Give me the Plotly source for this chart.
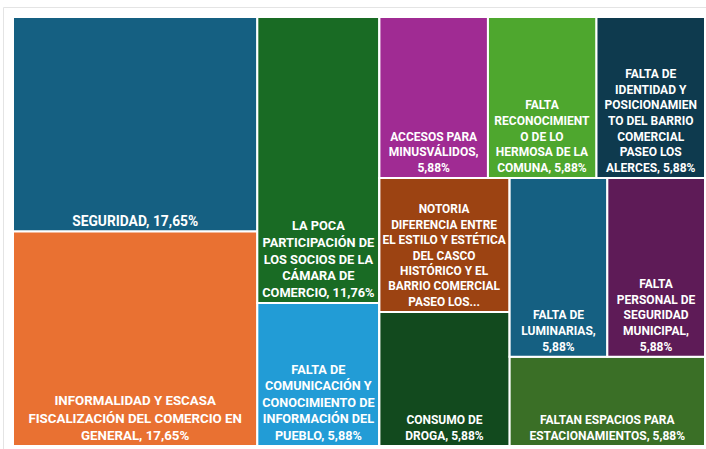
import plotly.graph_objects as go

# Leaf categories (display labels, wrapped as in the reference)
categories = [
    "SEGURIDAD",
    "INFORMALIDAD Y ESCASA<br>FISCALIZACIÓN DEL COMERCIO EN<br>GENERAL",
    "LA POCA<br>PARTICIPACIÓN DE<br>LOS SOCIOS DE LA<br>CÁMARA DE<br>COMERCIO",
    "FALTA DE<br>COMUNICACIÓN Y<br>CONOCIMIENTO DE<br>INFORMACIÓN DEL<br>PUEBLO",
    "ACCESOS PARA<br>MINUSVÁLIDOS",
    "FALTA<br>RECONOCIMIENT<br>O DE LO<br>HERMOSA DE LA<br>COMUNA",
    "FALTA DE<br>IDENTIDAD Y<br>POSICIONAMIEN<br>TO DEL BARRIO<br>COMERCIAL<br>PASEO LOS<br>ALERCES",
    "NOTORIA<br>DIFERENCIA ENTRE<br>EL ESTILO Y ESTÉTICA<br>DEL CASCO<br>HISTÓRICO Y EL<br>BARRIO COMERCIAL<br>PASEO LOS...",
    "CONSUMO DE<br>DROGA",
    "FALTA DE<br>LUMINARIAS",
    "FALTA<br>PERSONAL DE<br>SEGURIDAD<br>MUNICIPAL",
    "FALTAN ESPACIOS PARA<br>ESTACIONAMIENTOS",
]
values = [17.65, 17.65, 11.76, 5.88, 5.88, 5.88, 5.88, 5.88, 5.88, 5.88, 5.88, 5.88]
# how the percentage is attached: same line, new line, or hidden (truncated label)
pct_mode = ["same", "same", "same", "same", "newline", "same", "same", "hidden",
            "same", "newline", "newline", "same"]
# grouping of leaves (layout structure of the treemap)
leaf_parents = ["g1", "g1", "g2", "g2", "g3a", "g3a", "g3a", "g3b1", "g3b1", "g3b2a", "g3b2a", "g3b2"]
colors = ["#156082", "#E97132", "#196B24", "#229CD6", "#A02B93", "#4EA72E",
          "#0E3A4E", "#9C4312", "#124A1E", "#156082", "#5E1B57", "#3A6F26"]
font_sizes = [13.8, 13.3, 12.8, 12.7, 12, 12, 12, 12, 12, 12, 12, 12]

group_ids = ["root", "g1", "g2", "g3", "g3a", "g3b", "g3b1", "g3b2", "g3b2a"]
group_parents = ["", "root", "root", "root", "g3", "g3", "g3b", "g3b", "g3b2"]


def pct(v):
    return f"{v:.2f}".replace(".", ",") + "%"


def make_text(label, v, mode):
    if mode == "hidden":
        return label
    if mode == "newline":
        return label + ",<br>" + pct(v)
    return label + ", " + pct(v)


leaf_text = [make_text(c, v, m) for c, v, m in zip(categories, values, pct_mode)]

ids = group_ids + [f"leaf{i}" for i in range(len(categories))]
parents = group_parents + leaf_parents
vals = [0] * len(group_ids) + values
texts = [""] * len(group_ids) + leaf_text
mcolors = ["#FFFFFF"] * len(group_ids) + colors
sizes = [12] * len(group_ids) + font_sizes

fig = go.Figure(go.Treemap(
    ids=ids,
    labels=ids,
    parents=parents,
    values=vals,
    text=texts,
    branchvalues="remainder",
    sort=False,
    texttemplate="%{text}",
    textposition="bottom center",
    textfont=dict(family="Roboto, Liberation Sans, sans-serif", size=sizes,
                  color="white", weight="bold"),
    marker=dict(colors=mcolors, line=dict(width=2, color="white"),
                pad=dict(t=0, l=0, r=0, b=0)),
    tiling=dict(packing="slice-dice", pad=0),
    pathbar=dict(visible=False),
    hoverinfo="text",
))

fig.update_layout(
    width=706, height=449,
    margin=dict(l=13, r=1, t=17, b=3),
    paper_bgcolor="white",
    shapes=[dict(type="rect", xref="paper", yref="paper",
                 x0=-0.0137, x1=1.02, y0=-0.03, y1=1.0221,
                 line=dict(color="#E4E4E4", width=1), layer="below")],
)

fig.write_html("out.html", config={"displayModeBar": False},
               post_script="document.body.style.margin='0';document.body.style.overflow='hidden';")
